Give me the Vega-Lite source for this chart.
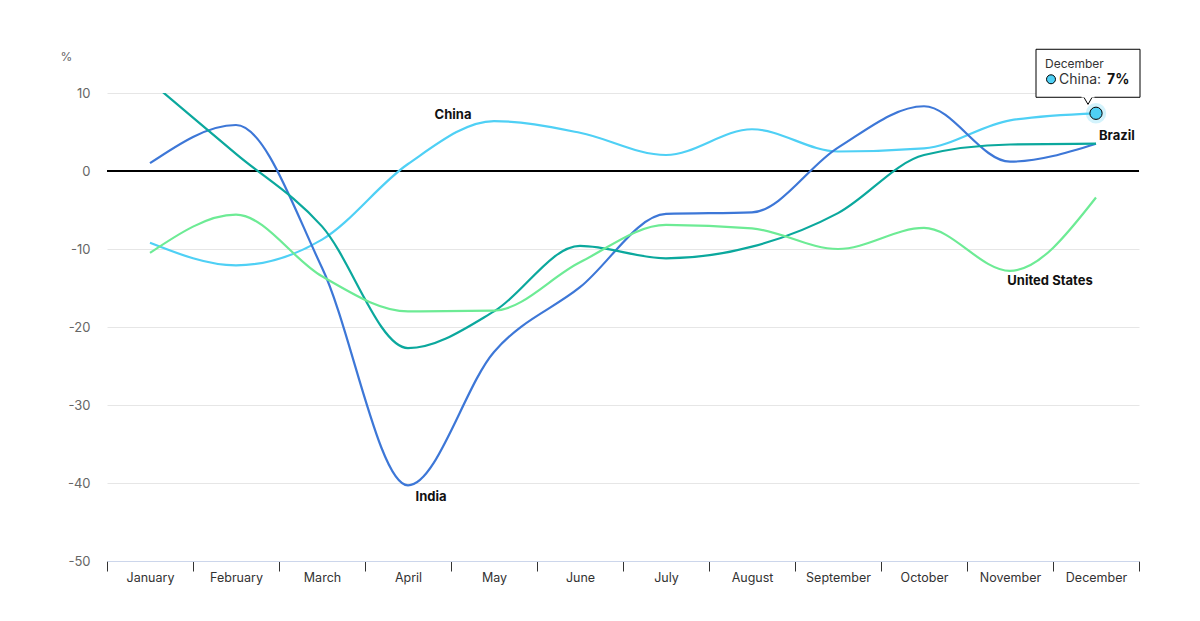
{
  "$schema": "https://vega.github.io/schema/vega-lite/v6.json",
  "width": 1032,
  "height": 468,
  "autosize": {"type": "none"},
  "padding": {"left": 107, "top": 93, "right": 61, "bottom": 60},
  "background": "white",
  "config": {"view": {"stroke": null}, "font": "Inter"},
  "datasets": {
    "series": [
      {"month": "January", "country": "China", "value": -9.2},
      {"month": "February", "country": "China", "value": -12.1},
      {"month": "March", "country": "China", "value": -8.8},
      {"month": "April", "country": "China", "value": 0.9},
      {"month": "May", "country": "China", "value": 6.4},
      {"month": "June", "country": "China", "value": 4.9},
      {"month": "July", "country": "China", "value": 2.05},
      {"month": "August", "country": "China", "value": 5.35},
      {"month": "September", "country": "China", "value": 2.5},
      {"month": "October", "country": "China", "value": 2.9},
      {"month": "November", "country": "China", "value": 6.5},
      {"month": "December", "country": "China", "value": 7.4},
      {"month": "January", "country": "India", "value": 1.0},
      {"month": "February", "country": "India", "value": 5.9},
      {"month": "March", "country": "India", "value": -12.4},
      {"month": "April", "country": "India", "value": -40.3},
      {"month": "May", "country": "India", "value": -23.2},
      {"month": "June", "country": "India", "value": -14.9},
      {"month": "July", "country": "India", "value": -5.5},
      {"month": "August", "country": "India", "value": -5.3},
      {"month": "September", "country": "India", "value": 3.0},
      {"month": "October", "country": "India", "value": 8.3},
      {"month": "November", "country": "India", "value": 1.2},
      {"month": "December", "country": "India", "value": 3.5},
      {"month": "January", "country": "Brazil", "value": 11.5},
      {"month": "February", "country": "Brazil", "value": 2.2},
      {"month": "March", "country": "Brazil", "value": -7.1},
      {"month": "April", "country": "Brazil", "value": -22.7},
      {"month": "May", "country": "Brazil", "value": -18.0},
      {"month": "June", "country": "Brazil", "value": -9.6},
      {"month": "July", "country": "Brazil", "value": -11.2},
      {"month": "August", "country": "Brazil", "value": -9.7},
      {"month": "September", "country": "Brazil", "value": -5.4},
      {"month": "October", "country": "Brazil", "value": 2.05},
      {"month": "November", "country": "Brazil", "value": 3.4},
      {"month": "December", "country": "Brazil", "value": 3.5},
      {"month": "January", "country": "United States", "value": -10.5},
      {"month": "February", "country": "United States", "value": -5.6},
      {"month": "March", "country": "United States", "value": -13.5},
      {"month": "April", "country": "United States", "value": -18.0},
      {"month": "May", "country": "United States", "value": -17.9},
      {"month": "June", "country": "United States", "value": -11.7},
      {"month": "July", "country": "United States", "value": -6.9},
      {"month": "August", "country": "United States", "value": -7.35},
      {"month": "September", "country": "United States", "value": -10.0},
      {"month": "October", "country": "United States", "value": -7.3},
      {"month": "November", "country": "United States", "value": -12.8},
      {"month": "December", "country": "United States", "value": -3.4}
    ]
  },
  "data": {"name": "series"},
  "encoding": {
    "x": {
      "field": "month",
      "type": "ordinal",
      "sort": null,
      "scale": {"type": "band", "paddingInner": 0, "paddingOuter": 0},
      "axis": {
        "title": null,
        "labelAngle": 0,
        "labelFontSize": 12.5,
        "labelColor": "#333333",
        "labelPadding": 0,
        "tickBand": "extent",
        "tickSize": 10,
        "tickColor": "#333333",
        "domainColor": "#ccd6eb",
        "grid": false
      }
    },
    "y": {
      "field": "value",
      "type": "quantitative",
      "scale": {"domain": [-50, 10], "nice": false, "zero": false},
      "axis": {
        "title": "%",
        "titleAngle": 0,
        "titleAlign": "center",
        "titleBaseline": "middle",
        "titleX": -41,
        "titleY": -37,
        "titleFontSize": 12,
        "titleFontWeight": "normal",
        "titleColor": "#666666",
        "values": [-50, -40, -30, -20, -10, 0, 10],
        "labelExpr": "'' + datum.value",
        "labelFontSize": 13,
        "labelColor": "#666666",
        "labelPadding": 17,
        "domain": false,
        "ticks": false,
        "gridColor": "#e6e6e6"
      }
    }
  },
  "layer": [
    {
      "mark": {"type": "rule", "color": "#000000", "strokeWidth": 1.2},
      "encoding": {"y": {"datum": 0}, "x": null}
    },
    {
      "mark": {"type": "line", "interpolate": "monotone", "strokeWidth": 2.2, "clip": true},
      "encoding": {
        "color": {
          "field": "country",
          "type": "nominal",
          "scale": {
            "domain": ["China", "India", "Brazil", "United States"],
            "range": ["#4fd0f5", "#3d77d7", "#0ba89d", "#6deb95"]
          },
          "legend": null
        },
        "detail": {"field": "country"}
      }
    },
    {
      "transform": [{"filter": "datum.country === 'China' && datum.month === 'May'"}],
      "mark": {"type": "text", "text": "China", "fontWeight": "bold", "fontSize": 13, "color": "#111111", "dx": -41, "dy": -6},
      "encoding": {}
    },
    {
      "transform": [{"filter": "datum.country === 'India' && datum.month === 'April'"}],
      "mark": {"type": "text", "text": "India", "fontWeight": "bold", "fontSize": 13, "color": "#111111", "dx": 23, "dy": 12},
      "encoding": {}
    },
    {
      "transform": [{"filter": "datum.country === 'Brazil' && datum.month === 'December'"}],
      "mark": {"type": "text", "text": "Brazil", "fontWeight": "bold", "fontSize": 13, "color": "#111111", "align": "left", "dx": 3, "dy": -8},
      "encoding": {}
    },
    {
      "transform": [{"filter": "datum.country === 'United States' && datum.month === 'November'"}],
      "mark": {"type": "text", "text": "United States", "fontWeight": "bold", "fontSize": 13, "color": "#111111", "dx": 40, "dy": 10},
      "encoding": {}
    },
    {
      "transform": [{"filter": "datum.country === 'China' && datum.month === 'December'"}],
      "mark": {"type": "point", "shape": "circle", "filled": true, "size": 420, "color": "#4fd0f5", "opacity": 0.25, "clip": false},
      "encoding": {}
    },
    {
      "transform": [{"filter": "datum.country === 'China' && datum.month === 'December'"}],
      "mark": {"type": "point", "shape": "circle", "filled": true, "size": 150, "fill": "#4fd0f5", "stroke": "#000000", "strokeWidth": 1, "opacity": 1, "clip": false},
      "encoding": {}
    },
    {
      "transform": [{"filter": "datum.country === 'China' && datum.month === 'December'"}],
      "mark": {"type": "rect", "fill": "white", "stroke": "#000000", "strokeWidth": 1, "xOffset": -60, "x2Offset": 44, "yOffset": -64, "y2Offset": -16, "clip": false},
      "encoding": {"x2": {"field": "month"}, "y2": {"field": "value"}}
    },
    {
      "transform": [{"filter": "datum.country === 'China' && datum.month === 'December'"}],
      "mark": {"type": "point", "shape": "triangle-down", "filled": true, "size": 90, "fill": "white", "stroke": "#000000", "strokeWidth": 1, "opacity": 1, "yOffset": -13, "xOffset": -8, "clip": false},
      "encoding": {}
    },
    {
      "transform": [{"filter": "datum.country === 'China' && datum.month === 'December'"}],
      "mark": {"type": "tick", "orient": "horizontal", "color": "white", "size": 13, "thickness": 2.5, "opacity": 1, "yOffset": -17, "xOffset": -8, "clip": false},
      "encoding": {}
    },
    {
      "transform": [{"filter": "datum.country === 'China' && datum.month === 'December'"}],
      "mark": {"type": "text", "text": "December", "fontSize": 12, "color": "#333333", "align": "left", "baseline": "middle", "xOffset": -51, "yOffset": -49, "clip": false},
      "encoding": {}
    },
    {
      "transform": [{"filter": "datum.country === 'China' && datum.month === 'December'"}],
      "mark": {"type": "point", "shape": "circle", "filled": true, "size": 80, "fill": "#4fd0f5", "stroke": "#000000", "strokeWidth": 1, "opacity": 1, "xOffset": -45, "yOffset": -34, "clip": false},
      "encoding": {}
    },
    {
      "transform": [{"filter": "datum.country === 'China' && datum.month === 'December'"}],
      "mark": {"type": "text", "text": "China: ", "fontSize": 14, "color": "#333333", "align": "left", "baseline": "middle", "xOffset": -37, "yOffset": -33, "clip": false},
      "encoding": {}
    },
    {
      "transform": [{"filter": "datum.country === 'China' && datum.month === 'December'"}],
      "mark": {"type": "text", "text": "7%", "fontSize": 14, "fontWeight": "bold", "color": "#111111", "align": "left", "baseline": "middle", "xOffset": 11, "yOffset": -33, "clip": false},
      "encoding": {}
    }
  ]
}
